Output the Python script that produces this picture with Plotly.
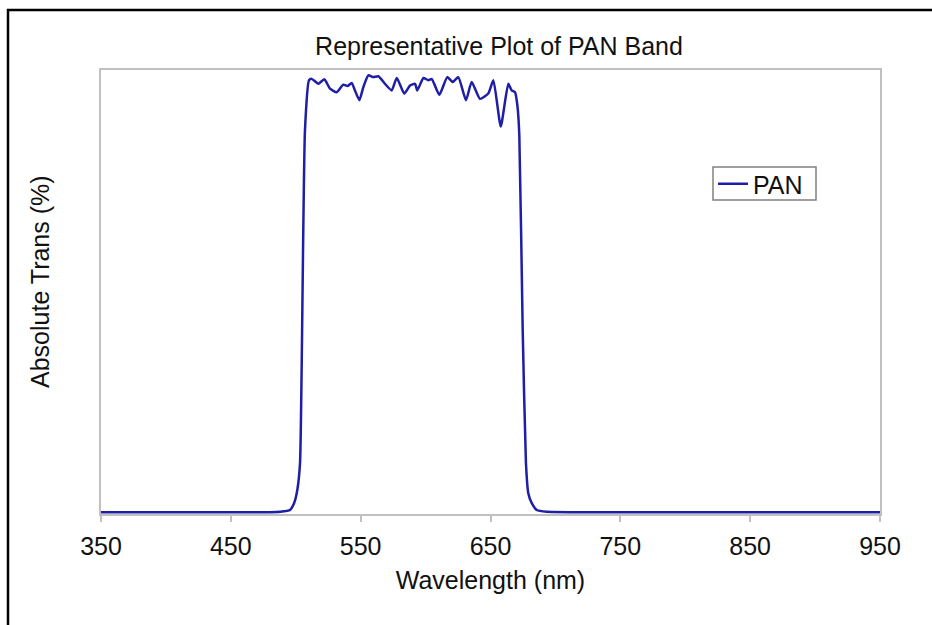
import plotly.graph_objects as go

# Wavelength (nm) and absolute transmission (%)
wavelength = [350, 400, 450, 480, 487.9, 495.6, 498.7, 501.2, 503.3, 504.6, 505.8, 507.1,
              510.2, 512.3, 517.4, 522.0, 526.4, 531.5, 536.6, 540.0, 543.1, 545.6,
              549.0, 552.0, 555.9, 559.7, 563.6, 568.7, 573.9, 577.8, 583.6, 588.0,
              591.9, 593.6, 598.3, 602.1, 604.7, 610.6, 616.7, 620.9, 625.2, 631.1,
              635.5, 641.9, 648.3, 652.2, 657.9, 663.7, 666.3, 668.9, 670.7, 672.2,
              674.8, 677.3, 679.1, 681.7, 685.6, 693.3, 750, 850, 950]
transmission = [0.4, 0.4, 0.4, 0.4, 0.5, 0.9, 2.4, 5.4, 11.5, 34.0, 63.9, 86.4,
                97.7, 98.0, 96.9, 97.9, 95.8, 95.0, 96.7, 96.4, 97.1, 95.4,
                93.2, 96.1, 98.8, 98.4, 98.6, 96.9, 95.4, 98.2, 94.7, 96.5,
                96.9, 95.4, 98.2, 97.7, 98.0, 94.4, 98.4, 97.3, 98.4, 93.2,
                97.3, 93.5, 94.7, 97.7, 87.3, 96.9, 95.4, 95.0, 92.0, 85.3,
                41.4, 11.5, 4.7, 2.5, 0.9, 0.5, 0.4, 0.4, 0.4]
x_ticks = [350, 450, 550, 650, 750, 850, 950]

W, H = 932, 625
L, R, T, B = 101, 52, 70, 111
pw, ph = W - L - R, H - T - B
FS = 25


def px_x(p):
    return (p - L) / pw


def px_y(p):
    return (T + ph - p) / ph


fig = go.Figure()
fig.add_trace(go.Scatter(
    x=wavelength, y=transmission, mode="lines", name="PAN",
    line=dict(color="#1e1ea6", width=2.5, shape="spline", smoothing=0.5),
))

font = dict(family="Liberation Sans, Arial, sans-serif", size=FS, color="#111111")

fig.update_layout(
    width=W, height=H,
    margin=dict(l=L, r=R, t=T, b=B),
    paper_bgcolor="white", plot_bgcolor="white",
    font=font,
    title=dict(text="Representative Plot of PAN Band", x=px_x(499), xref="paper",
               xanchor="center", y=1 - 46 / H, yanchor="middle", yref="container",
               font=dict(size=FS)),
    showlegend=True,
    legend=dict(x=px_x(713), y=px_y(161), xanchor="left", yanchor="top",
                borderwidth=0, bgcolor="rgba(0,0,0,0)",
                font=dict(size=FS), itemwidth=30, tracegroupgap=0),
    xaxis=dict(range=[350, 950], tickvals=x_ticks, ticktext=[str(v) for v in x_ticks],
               showgrid=False, zeroline=False, showline=True, linecolor="#c0c0c0",
               linewidth=2, mirror=True, ticks="outside", ticklen=6, tickcolor="#c0c0c0",
               tickwidth=1.5, tickfont=dict(size=FS), ticklabelstandoff=3,
               title=dict(text="Wavelength (nm)", standoff=12, font=dict(size=FS))),
    yaxis=dict(range=[0, 100], showticklabels=False, showgrid=False, zeroline=False,
               showline=True, linecolor="#c0c0c0", linewidth=2, mirror=True, ticks=""),
    annotations=[dict(text="Absolute Trans (%)", textangle=-90, xref="paper", yref="paper",
                      x=px_x(40), y=px_y(282), xanchor="center", yanchor="middle",
                      showarrow=False, font=dict(size=FS))],
    shapes=[
        dict(type="rect", xref="paper", yref="paper",
             x0=px_x(8), x1=px_x(W + 20), y0=px_y(H + 20), y1=px_y(10),
             line=dict(color="black", width=2.5), layer="below"),
        dict(type="rect", xref="paper", yref="paper",
             x0=px_x(713), x1=px_x(816), y0=px_y(200), y1=px_y(167),
             line=dict(color="#808080", width=1.5), layer="below"),
    ],
)

fig.write_html("out.html")
